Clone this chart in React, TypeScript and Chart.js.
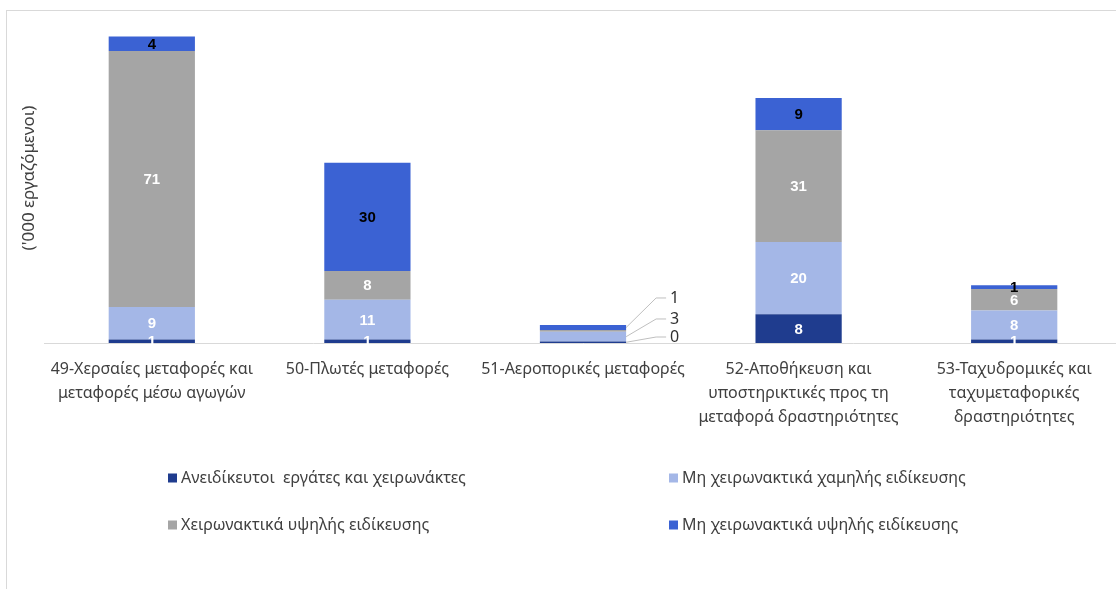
import React, { useEffect, useRef } from "react";
import { Chart, registerables } from "chart.js";

Chart.register(...registerables);

const categories: (string | string[])[] = [
  ["49-Χερσαίες μεταφορές και", "μεταφορές μέσω αγωγών"],
  "50-Πλωτές μεταφορές",
  "51-Αεροπορικές μεταφορές",
  ["52-Αποθήκευση και", "υποστηρικτικές προς τη", "μεταφορά δραστηριότητες"],
  ["53-Ταχυδρομικές και", "ταχυμεταφορικές", "δραστηριότητες"],
];

const seriesNames = [
  "Ανειδίκευτοι  εργάτες και χειρωνάκτες",
  "Μη χειρωνακτικά χαμηλής ειδίκευσης",
  "Χειρωνακτικά υψηλής ειδίκευσης",
  "Μη χειρωνακτικά υψηλής ειδίκευσης",
];

const unskilled = [1, 1, 0.4, 8, 1];
const nonManualLow = [9, 11, 2.7, 20, 8];
const manualHigh = [71, 8, 0.5, 31, 6];
const nonManualHigh = [4, 30, 1.4, 9, 1];

const colors = ["#1F3C8E", "#A4B7E7", "#A5A5A5", "#3B62D3"];
const labelColors = ["#FFFFFF", "#FFFFFF", "#FFFFFF", "#000000"];

const yTitle = "('000 εργαζόμενοι)";
const calloutIndex = 2; // category with callout labels
const calloutSeries = [3, 1, 0]; // top to bottom order of callout labels

const FONT = "'Noto Sans', sans-serif";
const TEXT = "#404040";

const labelsPlugin = {
  id: "segLabels",
  afterDatasetsDraw(chart: any) {
    const ctx = chart.ctx;
    const area = chart.chartArea;
    ctx.save();
    ctx.beginPath();
    ctx.rect(area.left, area.top - 20, area.right - area.left, area.bottom - area.top + 22);
    ctx.clip();
    ctx.font = `bold 15px 'Liberation Sans', Arial, sans-serif`;
    ctx.textAlign = "center";
    ctx.textBaseline = "middle";
    chart.data.datasets.forEach((ds: any, di: number) => {
      const meta = chart.getDatasetMeta(di);
      meta.data.forEach((el: any, i: number) => {
        if (i === calloutIndex) return;
        const v = ds.data[i];
        const yc = (el.y + el.base) / 2;
        ctx.fillStyle = labelColors[di];
        ctx.fillText(String(Math.round(v)), el.x, yc + 1);
      });
    });
    ctx.restore();

    // callouts for the small bar
    ctx.save();
    const topEl = chart.getDatasetMeta(3).data[calloutIndex];
    const baseEl = chart.getDatasetMeta(0).data[calloutIndex];
    const right = topEl.x + topEl.width / 2;
    const barTop = topEl.y;
    const barBase = baseEl.base;
    const targetY = [barTop - 27, barTop - 6, barBase - 6];
    ctx.strokeStyle = "#BFBFBF";
    ctx.lineWidth = 1;
    ctx.font = `16px ${FONT}`;
    ctx.fillStyle = "#303030";
    ctx.textAlign = "left";
    ctx.textBaseline = "middle";
    calloutSeries.forEach((si, k) => {
      const el = chart.getDatasetMeta(si).data[calloutIndex];
      const ay = (el.y + el.base) / 2;
      const ly = targetY[k];
      ctx.beginPath();
      ctx.moveTo(right, ay);
      ctx.lineTo(right + 30, ly);
      ctx.lineTo(right + 40, ly);
      ctx.stroke();
      const v = chart.data.datasets[si].data[calloutIndex];
      ctx.fillText(String(Math.round(v)), right + 44, ly);
    });
    ctx.restore();
  },
  afterDraw(chart: any) {
    const ctx = chart.ctx;
    ctx.save();
    // y axis title
    ctx.translate(29, 178);
    ctx.rotate(-Math.PI / 2);
    ctx.font = `17px ${FONT}`;
    ctx.fillStyle = TEXT;
    ctx.textAlign = "center";
    ctx.textBaseline = "middle";
    ctx.fillText(yTitle, 0, 0);
    ctx.restore();

    ctx.save();
    ctx.font = `16px ${FONT}`;
    ctx.textAlign = "left";
    ctx.textBaseline = "middle";
    const cols = [168, 669];
    const rows = [478, 525];
    seriesNames.forEach((name, i) => {
      const x = cols[i % 2];
      const y = rows[Math.floor(i / 2)];
      ctx.fillStyle = colors[i];
      ctx.fillRect(x, y - 4.5, 9, 9);
      ctx.fillStyle = TEXT;
      ctx.fillText(name, x + 13, y);
    });
    ctx.restore();
  },
};

export default function App() {
  const ref = useRef<HTMLCanvasElement>(null);
  useEffect(() => {
    if (!ref.current) return;
    const series = [unskilled, nonManualLow, manualHigh, nonManualHigh];
    const chart = new Chart(ref.current, {
      type: "bar",
      data: {
        labels: categories as any,
        datasets: series.map((d, i) => ({
          label: seriesNames[i],
          data: d,
          backgroundColor: colors[i],
          borderWidth: 0,
          categoryPercentage: 1,
          barPercentage: 0.4,
        })),
      },
      options: {
        animation: false,
        responsive: false,
        maintainAspectRatio: false,
        layout: { padding: { top: 33, left: 20, right: 0, bottom: 0 } },
        plugins: {
          legend: { display: false },
          tooltip: { enabled: false },
          title: { display: false },
        },
        scales: {
          x: {
            stacked: true,
            grid: { display: false, drawTicks: false },
            border: { display: true, color: "#D9D9D9", width: 1 },
            ticks: {
              color: TEXT,
              font: { family: FONT, size: 16, lineHeight: 1.5 },
              padding: 14,
              maxRotation: 0,
              autoSkip: false,
            },
            afterFit: (s: any) => {
              s.height = 246;
            },
          },
          y: {
            stacked: true,
            min: 0,
            max: 86,
            grid: { display: false },
            border: { display: false },
            ticks: { display: false },
            title: { display: false },
            afterFit: (s: any) => {
              s.width = 24;
            },
          },
        },
      },
      plugins: [labelsPlugin],
    });
    return () => chart.destroy();
  }, []);

  return (
    <div
      style={{
        position: "absolute",
        left: 0,
        top: 0,
        width: 1116,
        height: 589,
        overflow: "hidden",
        background: "#fff",
      }}
    >
      <div
        style={{
          position: "absolute",
          left: 6,
          top: 10,
          width: 1120,
          height: 600,
          borderTop: "1px solid #D9D9D9",
          borderLeft: "1px solid #D9D9D9",
        }}
      />
      <canvas
        ref={ref}
        width={1122}
        height={589}
        style={{ position: "absolute", left: 0, top: 0, width: 1122, height: 589 }}
      />
    </div>
  );
}
